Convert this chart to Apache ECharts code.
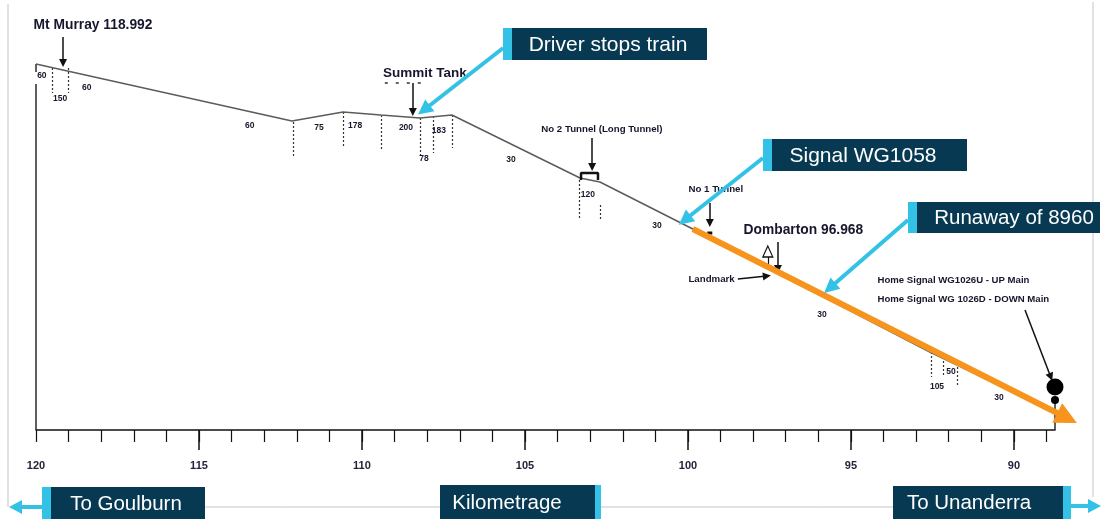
<!DOCTYPE html>
<html>
<head>
<meta charset="utf-8">
<script src="https://cdn.jsdelivr.net/npm/echarts@6/dist/echarts.min.js"></script>
<style>html,body{margin:0;padding:0;background:#fff}#c{width:1105px;height:519px}</style>
</head>
<body>
<div id="c"></div>
<script>
// ---------- data ----------
const axisLabelKm = [90, 95, 100, 105, 110, 115, 120];
const majorTickKm = [90, 95, 100, 105, 110, 115];
const minorTickKm = [89, 90, 91, 92, 93, 94, 95, 96, 97, 98, 99, 100, 101, 102, 103, 104, 105, 106, 107, 108, 109, 110, 111, 112, 113, 114, 115, 116, 117, 118, 119, 120];

// track profile (km, elevation m)
const profileKm   = [120.0, 112.15, 110.58, 109.42, 108.22, 107.24, 103.31, 102.70, 99.85, 92.58, 88.74];
const profileElev = [732,   618,    636,    630,    624,    630,    504,    496,    402,   156,   36];

// runaway of 8960 (start / end km, elevation)
const runawayKm   = [99.85, 88.37];
const runawayElev = [402, 24];

// grade / curve labels
const gradeText = ['60', '150', '60', '60', '75', '178', '200', '78', '183', '30', '120', '30', '30', '105', '50', '30'];
const gradeKm   = [119.82, 119.26, 118.44, 113.44, 111.32, 110.21, 108.65, 108.10, 107.64, 105.43, 103.07, 100.95, 95.89, 92.36, 91.93, 90.46];
const gradeElev = [708, 662, 684, 608, 604, 608, 604, 542, 598, 540, 470, 408, 230, 86, 116, 64];

// dotted curve markers (km, top elev, bottom elev)
const markerKm     = [119.51, 119.02, 112.12, 110.58, 109.42, 108.22, 107.82, 107.24, 103.34, 102.70, 92.55, 92.18, 91.75];
const markerTop    = [724, 724, 616, 636, 630, 624, 628, 630, 500, 450, 156, 146, 126];
const markerBottom = [674, 674, 544, 564, 560, 546, 554, 564, 420, 420, 106, 106, 90];

// place names
const placeText = ['Mt Murray 118.992', 'Summit Tank', 'No 2 Tunnel (Long Tunnel)', 'No 1 Tunnel', 'Dombarton 96.968', 'Landmark', 'Home Signal WG1026U - UP Main', 'Home Signal WG 1026D - DOWN Main'];
const placeKm   = [120.09, 108.07, 102.64, 100.0, 98.31, 100.0, 94.20, 94.20];
const placeElev = [810, 714, 602, 482, 400, 302, 300, 262];

// black pointer arrows (from km/elev -> to km/elev)
const pointerFromKm   = [119.17, 108.44, 102.94, 99.33, 97.24, 98.47, 89.66];
const pointerFromElev = [786, 694, 584, 454, 376, 302, 240];
const pointerToKm     = [119.17, 108.44, 102.94, 99.33, 97.24, 97.58, 88.87];
const pointerToElev   = [734, 636, 526, 414, 322, 308, 106];

// No 2 tunnel portal bracket
const tunnelKm   = [103.28, 103.28, 102.76, 102.76];
const tunnelElev = [500, 514, 514, 500];

// Summit Tank dashed marker
const tankKm   = [109.30, 108.07];
const tankElev = [694, 694];

// signal
const signalKm = 88.74;
const signalHeadElev = [86, 60];

// callouts
const calloutText = ['Driver stops train', 'Signal WG1058', 'Runaway of 8960'];
const calloutFromKm   = [105.67, 97.70, 93.25];
const calloutFromElev = [764, 544, 420];
const calloutToKm     = [108.10, 100.10, 95.65];
const calloutToElev   = [640, 420, 284];

// ---------- chart ----------
const NAVY = '#073a52', CYAN = '#33c2e6', ORANGE = '#f7941d', TXT = '#16162c';
const FONT = 'Liberation Sans, Arial';
const chart = echarts.init(document.getElementById('c'), null, {renderer: 'canvas'});

const gridCommon = {left: 36, right: 50, top: 0, bottom: 89};
const xCommon = {type: 'value', inverse: true, min: 88.74, max: 120, splitLine: {show: false}};
const yCommon = {type: 'value', min: 0, max: 860, show: false};

const seg = (a, b, c, d) => ({coords: [[a, b], [c, d]]});
const hidden = {color: 'transparent', opacity: 1};

const series = [];
// left border + stub + signal post
series.push({type: 'lines', coordinateSystem: 'cartesian2d', xAxisIndex: 0, yAxisIndex: 0, z: 3,
  lineStyle: {color: '#2a2a2a', width: 1.5, opacity: 1},
  data: [seg(profileKm[0], 0, profileKm[0], 692), seg(profileKm[0], profileElev[0], profileKm[0], 716),
         seg(signalKm, 0, signalKm, signalHeadElev[1])]});
// profile
series.push({type: 'line', xAxisIndex: 0, yAxisIndex: 0, symbol: 'none', z: 3,
  lineStyle: {color: '#5c5c5c', width: 1.5},
  data: profileKm.map((k, i) => [k, profileElev[i]])});
// dotted markers
series.push({type: 'lines', coordinateSystem: 'cartesian2d', xAxisIndex: 0, yAxisIndex: 0, z: 3,
  lineStyle: {color: '#333', width: 1.2, type: [2, 2], opacity: 1},
  data: markerKm.map((k, i) => seg(k, markerTop[i], k, markerBottom[i]))});
// summit tank dashes
series.push({type: 'lines', coordinateSystem: 'cartesian2d', xAxisIndex: 0, yAxisIndex: 0, z: 3,
  lineStyle: {color: '#333', width: 1.5, type: [3, 8], opacity: 1},
  data: [seg(tankKm[0], tankElev[0], tankKm[1], tankElev[1])]});
// tunnel bracket
series.push({type: 'line', xAxisIndex: 0, yAxisIndex: 0, symbol: 'none', z: 4,
  lineStyle: {color: '#111', width: 2.5},
  data: tunnelKm.map((k, i) => [k, tunnelElev[i]])});
// grade labels
series.push({type: 'scatter', xAxisIndex: 0, yAxisIndex: 0, symbolSize: 1, z: 5,
  itemStyle: hidden,
  label: {show: true, position: 'inside', formatter: p => p.data.name, color: TXT, opacity: 1, fontSize: 8.5, fontWeight: 'bold', fontFamily: FONT},
  data: gradeKm.map((k, i) => ({name: gradeText[i], value: [k, gradeElev[i]]}))});
// place names
const placeStyle = [
  {fontSize: 13.8, align: 'left'}, {fontSize: 13.5, align: 'center'}, {fontSize: 9.7, align: 'center'}, {fontSize: 9.7, align: 'left'},
  {fontSize: 13.8, align: 'left'}, {fontSize: 9.7, align: 'left'}, {fontSize: 9.6, align: 'left'}, {fontSize: 9.6, align: 'left'}];
series.push({type: 'scatter', xAxisIndex: 0, yAxisIndex: 0, symbolSize: 1, z: 5, clip: false,
  itemStyle: hidden,
  data: placeKm.map((k, i) => ({name: placeText[i], value: [k, placeElev[i]],
    label: {show: true, position: placeStyle[i].align === 'left' ? 'right' : 'inside', distance: 0,
      formatter: p => p.data.name, color: TXT, opacity: 1, fontSize: placeStyle[i].fontSize, fontWeight: 'bold', fontFamily: FONT}}))});
// pointer arrows
series.push({type: 'lines', coordinateSystem: 'cartesian2d', xAxisIndex: 0, yAxisIndex: 0, z: 6,
  symbol: ['none', 'triangle'], symbolSize: [0, 8],
  lineStyle: {color: '#111', width: 1.5, opacity: 1},
  data: pointerFromKm.map((k, i) => seg(k, pointerFromElev[i], pointerToKm[i], pointerToElev[i]))});
// landmark hollow arrow (Dombarton)
series.push({type: 'lines', coordinateSystem: 'cartesian2d', xAxisIndex: 0, yAxisIndex: 0, z: 6,
  lineStyle: {color: '#111', width: 1.2, opacity: 1},
  data: [seg(97.55, 326, 97.55, 352)]});
series.push({type: 'scatter', xAxisIndex: 0, yAxisIndex: 0, z: 7, symbol: 'triangle', symbolSize: [10, 11],
  itemStyle: {color: '#fff', borderColor: '#111', borderWidth: 1.2, opacity: 1},
  data: [[97.55, 357]]});
// No 1 tunnel small mark
series.push({type: 'scatter', xAxisIndex: 0, yAxisIndex: 0, z: 7, symbol: 'rect', symbolSize: [5, 3],
  itemStyle: {color: '#111', opacity: 1}, data: [[99.33, 394]]});
// runaway
series.push({type: 'lines', coordinateSystem: 'cartesian2d', xAxisIndex: 0, yAxisIndex: 0, z: 8, clip: false,
  symbol: ['none', 'triangle'], symbolSize: [0, 22],
  lineStyle: {color: ORANGE, width: 6, opacity: 1},
  data: [seg(runawayKm[0], runawayElev[0], runawayKm[1], runawayElev[1])]});
// signal heads
series.push({type: 'scatter', xAxisIndex: 0, yAxisIndex: 0, z: 9, symbol: 'circle',
  itemStyle: {color: '#000', opacity: 1}, clip: false,
  data: [{value: [signalKm, signalHeadElev[0]], symbolSize: 17}, {value: [signalKm, signalHeadElev[1]], symbolSize: 8}]});
// callout arrows
series.push({type: 'lines', coordinateSystem: 'cartesian2d', xAxisIndex: 0, yAxisIndex: 0, z: 10, clip: false,
  symbol: ['none', 'triangle'], symbolSize: [0, 15],
  lineStyle: {color: CYAN, width: 4, opacity: 1},
  data: calloutFromKm.map((k, i) => seg(k, calloutFromElev[i], calloutToKm[i], calloutToElev[i]))});

// ---------- graphics (callout boxes & frame) ----------
function box(x, y, w, h, stripe, text, fs, tx) {
  const els = [];
  els.push({type: 'rect', shape: {x, y, width: w, height: h}, style: {fill: NAVY}, z: 20});
  if (stripe === 'left') els.push({type: 'rect', shape: {x, y, width: 9, height: h}, style: {fill: CYAN}, z: 21});
  if (stripe === 'right') els.push({type: 'rect', shape: {x: x + w - 6, y, width: 6, height: h}, style: {fill: CYAN}, z: 21});
  els.push({type: 'text', z: 22, style: {text, x: tx, y: y + h / 2 + 1, fill: '#fff', font: fs + 'px "Liberation Sans", Arial', textAlign: 'center', textVerticalAlign: 'middle', align: 'center', verticalAlign: 'middle'}});
  return els;
}
const graphic = [].concat(
  [{type: 'line', shape: {x1: 8, y1: 4, x2: 8, y2: 507}, style: {stroke: '#c4c4c4', lineWidth: 1}, z: 1},
   {type: 'line', shape: {x1: 1093, y1: 2, x2: 1093, y2: 497}, style: {stroke: '#c4c4c4', lineWidth: 1}, z: 1},
   {type: 'line', shape: {x1: 12, y1: 507, x2: 1090, y2: 507}, style: {stroke: '#c4c4c4', lineWidth: 1}, z: 1},
   {type: 'line', shape: {x1: 44, y1: 507, x2: 20, y2: 507}, style: {stroke: CYAN, lineWidth: 4}, z: 23},
   {type: 'polygon', shape: {points: [[9, 507], [22, 500], [22, 514]]}, style: {fill: CYAN}, z: 23},
   {type: 'line', shape: {x1: 1068, y1: 506, x2: 1090, y2: 506}, style: {stroke: CYAN, lineWidth: 4}, z: 23},
   {type: 'polygon', shape: {points: [[1101, 506], [1088, 499], [1088, 513]]}, style: {fill: CYAN}, z: 23}],
  box(503, 28, 204, 32, 'left', calloutText[0], 21, 608),
  box(763, 139, 204, 32, 'left', calloutText[1], 21, 863),
  box(908, 202, 192, 31, 'left', calloutText[2], 20.5, 1014),
  box(42, 487, 163, 32, 'left', 'To Goulburn', 20.5, 126),
  box(440, 485, 161, 34, 'right', 'Kilometrage', 20.5, 507),
  box(893, 486, 178, 33, 'none', 'To Unanderra', 20.5, 969),
  [{type: 'rect', shape: {x: 1063, y: 486, width: 8, height: 33}, style: {fill: CYAN}, z: 21}]
);

chart.setOption({
  backgroundColor: '#fff',
  animation: false,
  grid: [Object.assign({}, gridCommon), Object.assign({}, gridCommon)],
  xAxis: [
    Object.assign({}, xCommon, {gridIndex: 0,
      axisLine: {show: true, lineStyle: {color: '#111', width: 1.5}},
      axisTick: {show: true, customValues: majorTickKm, length: 20, lineStyle: {color: '#111', width: 1.5}},
      axisLabel: {show: true, customValues: axisLabelKm, margin: 30, color: '#23233a', fontSize: 11, fontWeight: 'bold', fontFamily: FONT}}),
    Object.assign({}, xCommon, {gridIndex: 1,
      axisLine: {show: false},
      axisTick: {show: true, customValues: minorTickKm, length: 12, lineStyle: {color: '#111', width: 1.2}},
      axisLabel: {show: false}})
  ],
  yAxis: [Object.assign({}, yCommon, {gridIndex: 0}), Object.assign({}, yCommon, {gridIndex: 1})],
  series,
  graphic
});
</script>
</body>
</html>
